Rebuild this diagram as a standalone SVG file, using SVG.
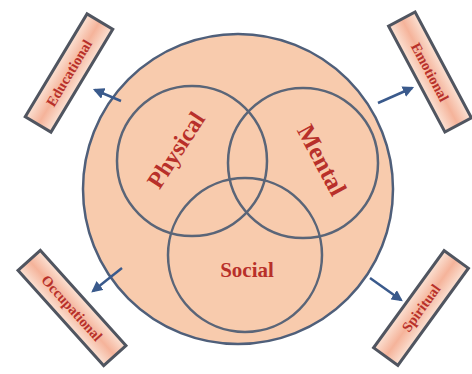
<svg xmlns="http://www.w3.org/2000/svg" width="472" height="374" viewBox="0 0 472 374">
<defs>
<marker id="ah" viewBox="0 0 10 10" refX="8" refY="5" markerWidth="4.5" markerHeight="4.5" orient="auto-start-reverse">
<path d="M0,0 L10,5 L0,10 z" fill="#3a5a8c"/>
</marker>
<linearGradient id="bx" x1="0" y1="0" x2="0" y2="1">
<stop offset="0" stop-color="#fbe2d4"/>
<stop offset="0.5" stop-color="#f5b39a"/>
<stop offset="1" stop-color="#fbe2d4"/>
</linearGradient>
<style>
.big{fill:#f8cbad;stroke:#4f5f7a;stroke-width:2.5}
.ring{fill:none;stroke:#5a6578;stroke-width:2.5}
.box{fill:url(#bx);stroke:#505560;stroke-width:3}
.lbl{font-family:"Liberation Serif",serif;font-weight:bold;fill:#b8302a;text-anchor:middle;dominant-baseline:central}
.sm{font-size:14.5px}
.conn{stroke:#3a5a8c;stroke-width:2.5;fill:none;marker-end:url(#ah)}
</style>
</defs>
<rect width="472" height="374" fill="#ffffff"/>
<g id="wellness">
<circle class="big" cx="238" cy="189" r="155"/>
</g>
<g id="physical">
<circle class="ring" cx="192" cy="161" r="75"/>
<text class="lbl" font-size="24" transform="translate(176,150) rotate(-57)">Physical</text>
</g>
<g id="mental">
<circle class="ring" cx="303" cy="163" r="75"/>
<text class="lbl" font-size="25" transform="translate(322,160) rotate(62)">Mental</text>
</g>
<g id="social">
<circle class="ring" cx="245" cy="255" r="77"/>
<text class="lbl" font-size="21" x="247" y="270">Social</text>
</g>
<g id="connectors">
<line class="conn" x1="121" y1="101" x2="95" y2="90"/>
<line class="conn" x1="378" y1="103" x2="412" y2="88"/>
<line class="conn" x1="122" y1="268" x2="93" y2="291"/>
<line class="conn" x1="370" y1="278" x2="401" y2="300"/>
</g>
<g id="educational" transform="translate(69,73) rotate(-59)">
<rect class="box" x="-60" y="-15" width="120" height="30"/>
<text class="lbl sm" x="0" y="0">Educational</text>
</g>
<g id="emotional" transform="translate(430,72) rotate(62)">
<rect class="box" x="-60" y="-15" width="120" height="30"/>
<text class="lbl sm" x="0" y="0">Emotional</text>
</g>
<g id="occupational" transform="translate(72,308) rotate(48)">
<rect class="box" x="-64" y="-15" width="128" height="30"/>
<text class="lbl sm" x="0" y="0">Occupational</text>
</g>
<g id="spiritual" transform="translate(421,308) rotate(-54)">
<rect class="box" x="-60" y="-15" width="120" height="30"/>
<text class="lbl sm" x="0" y="0">Spiritual</text>
</g>
</svg>
